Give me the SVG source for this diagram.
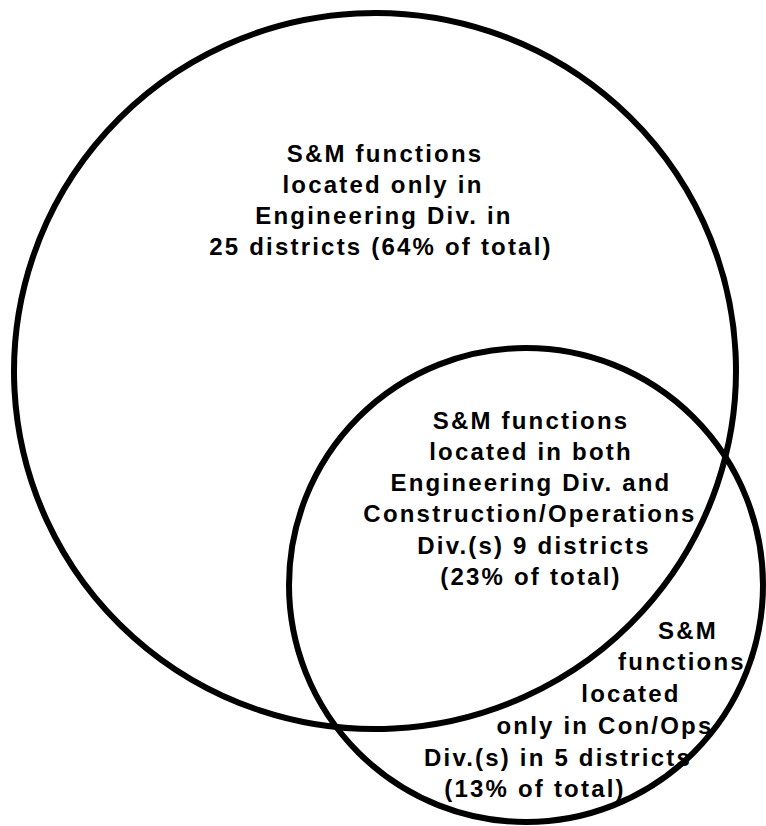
<svg xmlns="http://www.w3.org/2000/svg" width="766" height="826" viewBox="0 0 766 826">
<style>
.ring{fill:none;stroke:#000;stroke-width:6}
text{font-family:"Liberation Sans",Arial,sans-serif;font-weight:bold;font-size:24px;letter-spacing:2.2px;fill:#000;text-anchor:middle}
</style>
<rect width="766" height="826" fill="#fff"/>
<g id="engineering">
<ellipse class="ring" cx="375" cy="371" rx="361" ry="358" transform="rotate(-3 375 371)"/>
<text x="385" y="162">S&amp;M functions</text>
<text x="383" y="193">located only in</text>
<text x="384" y="224">Engineering Div. in</text>
<text x="381" y="255">25 districts (64% of total)</text>
</g>
<g id="conops">
<ellipse class="ring" cx="526" cy="585" rx="237" ry="237"/>
</g>
<g id="both">
<text x="531" y="429">S&amp;M functions</text>
<text x="531" y="460">located in both</text>
<text x="531" y="491">Engineering Div. and</text>
<text x="530" y="522">Construction/Operations</text>
<text x="534" y="554">Div.(s) 9 districts</text>
<text x="531" y="585">(23% of total)</text>
</g>
<g id="conops-only">
<text x="688" y="639">S&amp;M</text>
<text x="682" y="670">functions</text>
<text x="631" y="702">located</text>
<text x="605" y="734">only in Con/Ops</text>
<text x="558" y="766">Div.(s) in 5 districts</text>
<text x="535" y="797">(13% of total)</text>
</g>
<g id="connectors"></g>
</svg>
